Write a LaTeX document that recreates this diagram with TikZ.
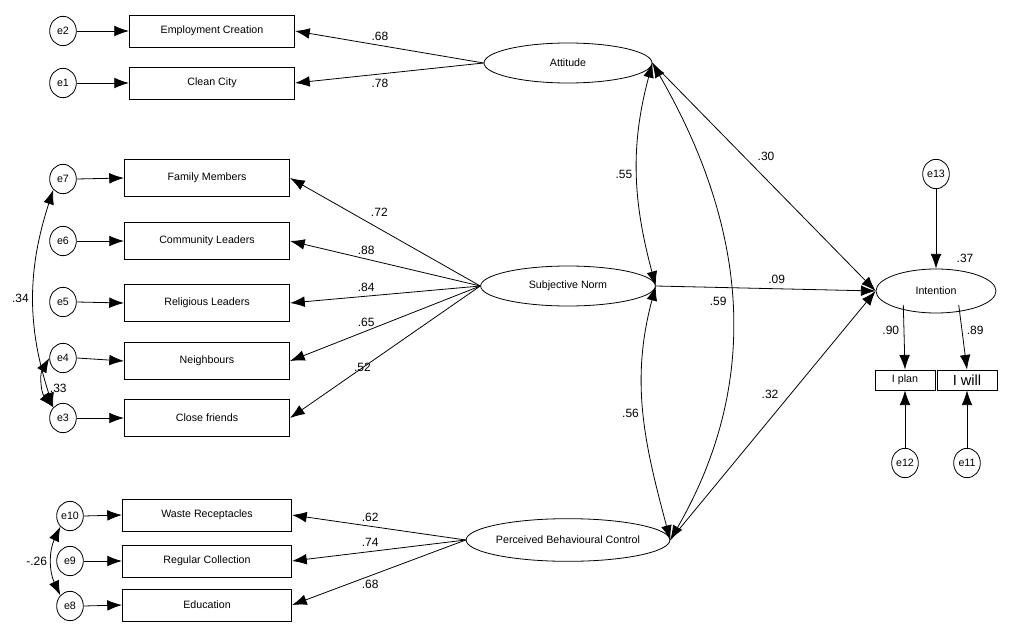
\documentclass[tikz,border=0pt]{standalone}
\usepackage{fontspec}
\setmainfont{Liberation Sans}
\usetikzlibrary{arrows.meta,shapes.geometric}
\begin{document}
\begin{tikzpicture}[x=0.75pt,y=-0.75pt,
  font=\fontsize{8}{9}\selectfont,
  err/.style={ellipse,draw,semithick,minimum width=20pt,minimum height=22pt,inner sep=0pt},
  obs/.style={draw,semithick,minimum width=124pt,minimum height=#1,inner sep=0pt},
  obs/.default=24pt,
  lat/.style={ellipse,draw,semithick,inner sep=0pt},
  arr/.style={semithick,-{Latex[length=11pt,width=8pt]}},
  cov/.style={semithick,{Latex[length=11pt,width=8pt]}-{Latex[length=11pt,width=8pt]}},
  lbl/.style={font=\fontsize{9}{10}\selectfont}]
\useasboundingbox (0,0) rectangle (1013,638);
% errors
\node[err] (e2) at (63,31) {e2};
\node[err] (e1) at (63,83) {e1};
\node[err] (e7) at (63,179) {e7};
\node[err] (e6) at (63,241) {e6};
\node[err] (e5) at (63,302) {e5};
\node[err] (e4) at (63,358) {e4};
\node[err] (e3) at (63,418) {e3};
\node[err] (e10) at (70,516) {e10};
\node[err] (e9) at (70,561) {e9};
\node[err] (e8) at (70,606) {e8};
% observed
\node[obs] (ec) at (212,31) {Employment Creation};
\node[obs] (cc) at (212,83) {Clean City};
\node[obs=28pt] (fm) at (207,178) {Family Members};
\node[obs=28pt] (cl) at (207,241) {Community Leaders};
\node[obs=28pt] (rl) at (207,303) {Religious Leaders};
\node[obs=28pt] (nb) at (207,361) {Neighbours};
\node[obs=28pt] (cf) at (207,418) {Close friends};
\node[obs, minimum width=127pt] (wr) at (207,515) {Waste Receptacles};
\node[obs, minimum width=127pt] (rc) at (207,561) {Regular Collection};
\node[obs, minimum width=127pt] (ed) at (207,605) {Education};
% latent
\node[lat,minimum width=126pt,minimum height=30pt] (att) at (568,63) {Attitude};
\node[lat,minimum width=131pt,minimum height=30pt] (sn) at (568,286) {Subjective Norm};
\node[lat,minimum width=128pt,minimum height=32pt] (pbc) at (568,540) {Perceived Behavioural Control};
\node[lat,minimum width=90pt,minimum height=33pt] (int) at (936,291) {Intention};
\node[err] (e13) at (936,174) {e13};
\node[obs, minimum width=45pt, minimum height=15pt] (ip) at (905,380) {I plan};
\node[obs, minimum width=45pt, minimum height=15pt, font=\fontsize{11}{12}\selectfont] (iw) at (967,380) {I will};
\node[err] (e12) at (905,463) {e12};
\node[err] (e11) at (967,463) {e11};
% error arrows
\foreach \a/\b in {e2/ec,e1/cc,e7/fm,e6/cl,e5/rl,e4/nb,e3/cf,e10/wr,e9/rc,e8/ed}
  \draw[arr] (\a.east) -- (\b.west);
\draw[arr] (e13) -- (int);
\draw[arr] (e12) -- (ip);
\draw[arr] (e11) -- (iw);
% loadings
\draw[arr] (att.west) -- node[lbl,above,pos=0.55]{.68} (ec.east);
\draw[arr] (att.west) -- node[lbl,below,pos=0.55]{.78} (cc.east);
\draw[arr] (sn.west) -- node[lbl,above right,pos=0.6]{.72} (fm.east);
\draw[arr] (sn.west) -- node[lbl,above,pos=0.6]{.88} (cl.east);
\draw[arr] (sn.west) -- node[lbl,above,pos=0.6]{.84} (rl.east);
\draw[arr] (sn.west) -- node[lbl,above,pos=0.6]{.65} (nb.east);
\draw[arr] (sn.west) -- node[lbl,below left,pos=0.55]{.52} (cf.east);
\draw[arr] (pbc.west) -- node[lbl,above,pos=0.55]{.62} (wr.east);
\draw[arr] (pbc.west) -- node[lbl,above,pos=0.55]{.74} (rc.east);
\draw[arr] (pbc.west) -- node[lbl,below,pos=0.55]{.68} (ed.east);
\draw[arr] (int.south west) ++(10,-2) coordinate (ia) (ia) -- node[lbl,left,pos=0.4]{.90} (ip.north);
\draw[arr] (int.south east) ++(-20,-2) coordinate (ib) (ib) -- node[lbl,right,pos=0.4]{.89} (iw.north);
\node[lbl] at (965,258) {.37};
% structural
\draw[arr] (att.east) -- node[lbl,above right,pos=0.45]{.30} (int.west);
\draw[arr] (sn.east) -- node[lbl,above,pos=0.55]{.09} (int.west);
\draw[arr] (pbc.east) -- node[lbl,above left,pos=0.55]{.32} (int.west);
% covariances
\draw[cov] (att.east) to[out=-105,in=105] node[lbl,left,pos=0.5]{.55} (sn.east);
\draw[cov] (att.east) to[out=-60,in=60] node[lbl,left,pos=0.5]{.59} (pbc.east);
\draw[cov] (sn.east) to[out=-105,in=105] node[lbl,left,pos=0.5]{.56} (pbc.east);
\draw[cov] (e7.south west) to[bend right=18] node[lbl,left]{.34} (e3.north west);
\draw[cov] (e4.west) to[bend right=35] node[lbl,right=1pt,pos=0.6]{.33} (e3.north west);
\draw[cov] (e10.south west) to[bend right=25] node[lbl,left]{-.26} (e8.north west);
\end{tikzpicture}
\end{document}
